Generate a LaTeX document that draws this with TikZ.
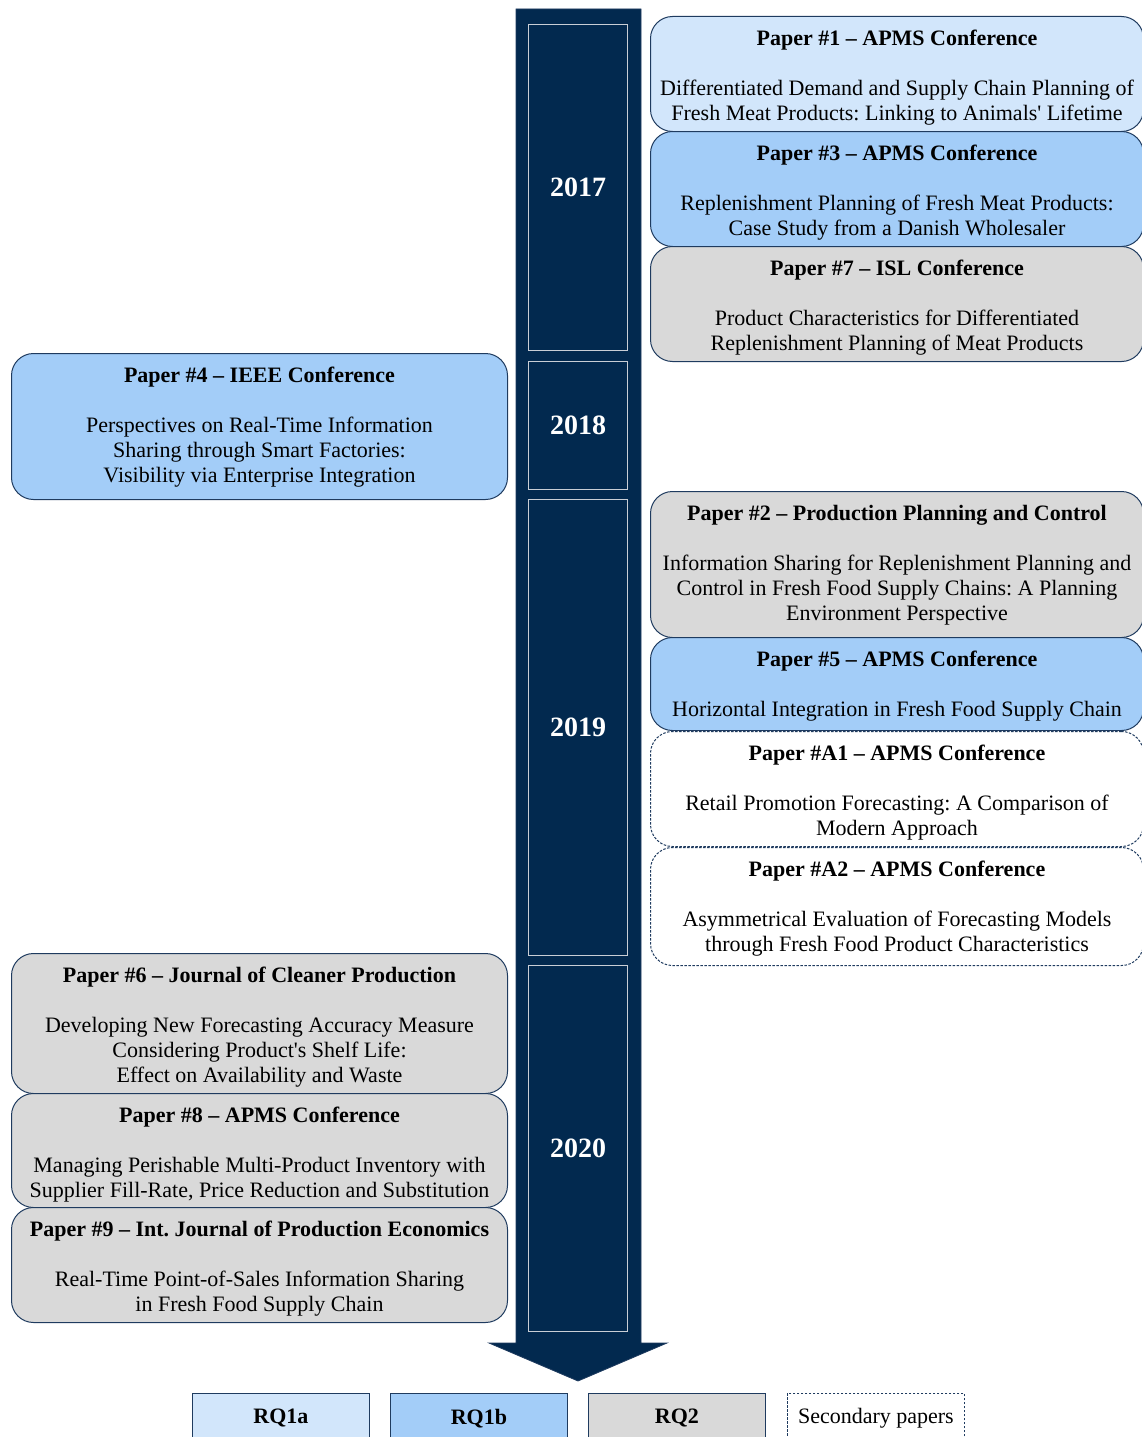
\documentclass[tikz,border=0pt]{standalone}
\usepackage{fontspec}
\setmainfont{Liberation Serif}
\frenchspacing
\definecolor{barnavy}{HTML}{02294F}
\definecolor{edge}{HTML}{1F3B5F}
\definecolor{rqa}{HTML}{D2E6FB}
\definecolor{rqb}{HTML}{A3CDF8}
\definecolor{rqtwo}{HTML}{D9D9D9}
\definecolor{yearline}{HTML}{C9CED6}
\tikzset{
  paper/.style={draw=edge, line width=1pt, rounded corners=22pt, inner sep=0pt, anchor=north west},
  paperA/.style={paper, fill=rqa},
  paperB/.style={paper, fill=rqb},
  paperC/.style={paper, fill=rqtwo},
  paperS/.style={paper, fill=white, dash pattern=on 2.5pt off 1.5pt, line width=1pt},
  ptext/.style={anchor=north, align=center, inner sep=0pt, font=\fontsize{22}{25}\selectfont},
  yearbox/.style={draw=yearline, line width=1.2pt, anchor=north west, minimum width=99pt,
    inner sep=0pt, text=white, font=\fontsize{28}{30}\selectfont\bfseries},
  legbox/.style={draw=edge, line width=0.8pt, anchor=north west, minimum width=177pt,
    minimum height=50pt, inner sep=0pt, font=\fontsize{22}{25}\selectfont\bfseries},
}
% \paperbox{name}{style}{x1}{y1}{x2}{y2}{title}{body}
\newcommand\paperbox[8]{%
  \pgfmathsetmacro\pbw{#5-#3}%
  \pgfmathsetmacro\pbh{#6-#4}%
  \node[#2, minimum width=\pbw pt, minimum height=\pbh pt] (#1) at (#3,#4) {};
  \node[ptext] (#1-t) at ([yshift=-13pt]#1.north) {\rule{0pt}{16pt}\textbf{#7}\\ \\ #8};
}
\begin{document}
\begin{tikzpicture}[x=1pt,y=-1pt]
\useasboundingbox (0,0) rectangle (1142,1437);

% timeline bar with arrow head
\fill[barnavy, draw=edge, line width=0.8pt]
  (516,9) -- (641,9) -- (641,1343) -- (667,1343) -- (578,1381)
  -- (489,1343) -- (516,1343) -- cycle;

% year frames
\node[yearbox, minimum height=326pt] (y2017) at (528,24) {2017};
\node[yearbox, minimum height=128pt] (y2018) at (528,361) {2018};
\node[yearbox, minimum height=456pt] (y2019) at (528,499) {2019};
\node[yearbox, minimum height=366pt] (y2020) at (528,965) {2020};

% right column
\paperbox{p1}{paperA}{650}{16}{1143}{131}{Paper \#1 -- APMS Conference}
  {Differentiated Demand and Supply Chain Planning of\\Fresh Meat Products: Linking to Animals\textquotesingle\ Lifetime}
\paperbox{p3}{paperB}{650}{131}{1143}{246}{Paper \#3 -- APMS Conference}
  {Replenishment Planning of Fresh Meat Products:\\Case Study from a Danish Wholesaler}
\paperbox{p7}{paperC}{650}{246}{1143}{361}{Paper \#7 -- ISL Conference}
  {Product Characteristics for Differentiated\\Replenishment Planning of Meat Products}
\paperbox{p2}{paperC}{650}{491}{1143}{637}{Paper \#2 -- Production Planning and Control}
  {Information Sharing for Replenishment Planning and\\Control in Fresh Food Supply Chains: A Planning\\Environment Perspective}
\paperbox{p5}{paperB}{650}{637}{1143}{730}{Paper \#5 -- APMS Conference}
  {Horizontal Integration in Fresh Food Supply Chain}
\paperbox{pA1}{paperS}{650}{731}{1143}{846}{Paper \#A1 -- APMS Conference}
  {Retail Promotion Forecasting: A Comparison of\\Modern Approach}
\paperbox{pA2}{paperS}{650}{847}{1143}{965}{Paper \#A2 -- APMS Conference}
  {Asymmetrical Evaluation of Forecasting Models\\through Fresh Food Product Characteristics}

% left column
\paperbox{p4}{paperB}{11}{353}{507}{499}{Paper \#4 -- IEEE Conference}
  {Perspectives on Real-Time Information\\Sharing through Smart Factories:\\Visibility via Enterprise Integration}
\paperbox{p6}{paperC}{11}{953}{507}{1093}{Paper \#6 -- Journal of Cleaner Production}
  {Developing New Forecasting Accuracy Measure\\Considering Product\textquotesingle s Shelf Life:\\Effect on Availability and Waste}
\paperbox{p8}{paperC}{11}{1093}{507}{1207}{Paper \#8 -- APMS Conference}
  {Managing Perishable Multi-Product Inventory with\\Supplier Fill-Rate, Price Reduction and Substitution}
\paperbox{p9}{paperC}{11}{1207}{507}{1322}{Paper \#9 -- Int. Journal of Production Economics}
  {Real-Time Point-of-Sales Information Sharing\\in Fresh Food Supply Chain}

% legend
\node[legbox, fill=rqa] (legA) at (192,1393) {RQ1a};
\node[legbox, fill=rqb] (legB) at (390,1393) {RQ1b};
\node[legbox, fill=rqtwo] (legC) at (588,1393) {RQ2};
\node[legbox, fill=white, dash pattern=on 2.5pt off 1.5pt, font=\fontsize{22}{25}\selectfont] (legS) at (787,1393) {Secondary papers};
\end{tikzpicture}
\end{document}
